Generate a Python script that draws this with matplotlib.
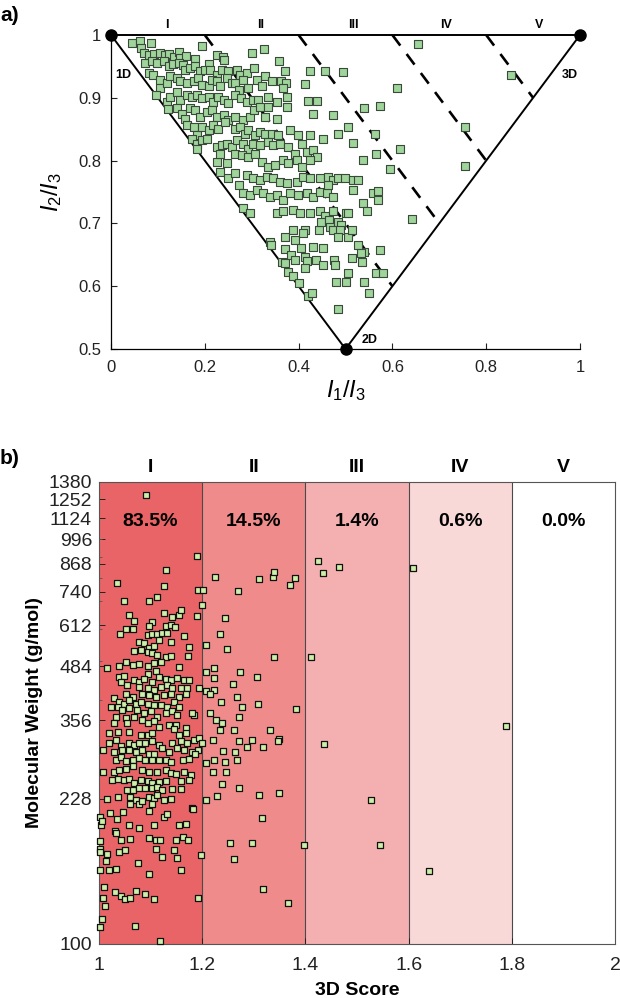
import numpy as np
import matplotlib
matplotlib.use("Agg")
import matplotlib.pyplot as plt
from matplotlib.ticker import FixedLocator, NullFormatter

plt.rcParams['font.family'] = ['Liberation Sans', 'DejaVu Sans']
plt.rcParams['mathtext.fontset'] = 'custom'
plt.rcParams['mathtext.it'] = 'Liberation Sans:italic'
plt.rcParams['mathtext.rm'] = 'Liberation Sans'

# ---- panel a: normalised PMI ratios (I1/I3, I2/I3) ----
pmi_x = [0.044, 0.062, 0.064, 0.085, 0.071, 0.080, 0.092, 0.104, 0.115, 0.124, 0.134, 0.145, 0.147, 0.160, 0.179, 0.195, 0.208, 0.225, 0.238, 0.242,
         0.072, 0.087, 0.099, 0.112, 0.124, 0.133, 0.144, 0.154, 0.158, 0.168, 0.179, 0.190, 0.200, 0.211, 0.225, 0.236, 0.250, 0.268, 0.274, 0.289,
         0.301, 0.305, 0.326, 0.329, 0.343, 0.358, 0.372, 0.362, 0.373, 0.424, 0.456, 0.494,
         0.080, 0.090, 0.104, 0.104, 0.119, 0.126, 0.140, 0.147, 0.161, 0.176, 0.186, 0.195, 0.208, 0.215, 0.225, 0.232, 0.247, 0.257, 0.264, 0.272,
         0.282, 0.293, 0.311, 0.321, 0.366, 0.414,
         0.096, 0.119, 0.126, 0.140, 0.147, 0.161, 0.172, 0.183, 0.193, 0.208, 0.218, 0.229, 0.240, 0.250, 0.264, 0.277, 0.289, 0.303, 0.314, 0.335,
         0.355, 0.375, 0.421, 0.440, 0.474, 0.539, 0.574,
         0.122, 0.140, 0.151, 0.168, 0.179, 0.190, 0.204, 0.215, 0.225, 0.240, 0.250, 0.264, 0.282, 0.296, 0.305, 0.318, 0.328, 0.335, 0.355, 0.375,
         0.431,
         0.158, 0.161, 0.176, 0.184, 0.193, 0.208, 0.218, 0.229, 0.243, 0.264, 0.275, 0.286, 0.293, 0.307, 0.318, 0.328, 0.343, 0.357, 0.382, 0.399,
         0.424, 0.453, 0.485, 0.506, 0.517, 0.563,
         0.172, 0.183, 0.193, 0.204, 0.225, 0.236, 0.247, 0.257, 0.268, 0.282, 0.293, 0.303, 0.318, 0.335, 0.346, 0.360, 0.378, 0.392, 0.407, 0.417,
         0.431, 0.439, 0.538, 0.566,
         0.183, 0.225, 0.232, 0.247, 0.264, 0.279, 0.293, 0.307, 0.321, 0.335, 0.350, 0.367, 0.378, 0.396, 0.407, 0.424,
         0.232, 0.250, 0.264, 0.272, 0.289, 0.303, 0.318, 0.332, 0.346, 0.360, 0.375, 0.396, 0.410, 0.424, 0.446, 0.463, 0.474, 0.485, 0.499, 0.517,
         0.527,
         0.282, 0.296, 0.311, 0.325, 0.339, 0.353, 0.367, 0.382, 0.399, 0.417, 0.431, 0.446, 0.460, 0.463, 0.474, 0.517, 0.538, 0.559, 0.570,
         0.282, 0.296, 0.353, 0.367, 0.389, 0.403, 0.424, 0.446, 0.456, 0.474, 0.502, 0.545,
         0.338, 0.342, 0.371, 0.371, 0.392, 0.365, 0.371, 0.378, 0.388, 0.400, 0.414, 0.418, 0.437, 0.414, 0.451, 0.475, 0.420, 0.428, 0.477, 0.479,
         0.500, 0.505, 0.513, 0.536, 0.540, 0.550, 0.485, 0.564, 0.574, 0.540, 0.414, 0.443, 0.447, 0.464, 0.468, 0.485, 0.491, 0.473, 0.489, 0.485,
         0.506, 0.505, 0.513, 0.527, 0.532, 0.430, 0.451, 0.405, 0.384, 0.392, 0.388, 0.409,
         0.654, 0.610, 0.616, 0.595, 0.641, 0.755, 0.755, 0.852, 0.581, 0.570]
pmi_y = [0.987, 0.990, 0.980, 0.988, 0.971, 0.968, 0.970, 0.971, 0.968, 0.969, 0.965, 0.973, 0.964, 0.967, 0.961, 0.982, 0.954, 0.968, 0.965, 0.960,
         0.956, 0.959, 0.955, 0.958, 0.951, 0.954, 0.955, 0.952, 0.944, 0.947, 0.950, 0.942, 0.944, 0.945, 0.936, 0.944, 0.942, 0.944, 0.936, 0.939,
         0.971, 0.947, 0.977, 0.935, 0.927, 0.958, 0.943, 0.927, 0.923, 0.943, 0.942, 0.941,
         0.939, 0.936, 0.928, 0.915, 0.923, 0.934, 0.931, 0.926, 0.923, 0.926, 0.931, 0.920, 0.918, 0.928, 0.926, 0.918, 0.931, 0.924, 0.923, 0.912,
         0.928, 0.915, 0.928, 0.918, 0.915, 0.922,
         0.904, 0.894, 0.902, 0.910, 0.896, 0.904, 0.902, 0.904, 0.899, 0.902, 0.894, 0.902, 0.896, 0.891, 0.904, 0.899, 0.894, 0.896, 0.896, 0.902,
         0.893, 0.902, 0.895, 0.895, 0.873, 0.884, 0.887,
         0.882, 0.883, 0.875, 0.883, 0.881, 0.870, 0.878, 0.881, 0.870, 0.873, 0.865, 0.870, 0.865, 0.870, 0.881, 0.886, 0.870, 0.886, 0.867, 0.885,
         0.875,
         0.867, 0.857, 0.854, 0.841, 0.854, 0.849, 0.857, 0.851, 0.862, 0.851, 0.854, 0.843, 0.849, 0.841, 0.846, 0.843, 0.843, 0.841, 0.849, 0.841,
         0.841, 0.835, 0.843, 0.853, 0.828, 0.842,
         0.835, 0.827, 0.833, 0.835, 0.822, 0.825, 0.827, 0.822, 0.833, 0.827, 0.819, 0.827, 0.825, 0.830, 0.825, 0.827, 0.822, 0.811, 0.827, 0.814,
         0.817, 0.806, 0.801, 0.811,
         0.819, 0.798, 0.811, 0.796, 0.811, 0.809, 0.806, 0.811, 0.798, 0.790, 0.793, 0.801, 0.796, 0.801, 0.790, 0.801,
         0.782, 0.772, 0.780, 0.761, 0.777, 0.772, 0.769, 0.774, 0.772, 0.766, 0.764, 0.766, 0.774, 0.772, 0.772, 0.774, 0.769, 0.772, 0.772, 0.769,
         0.769,
         0.748, 0.745, 0.753, 0.748, 0.742, 0.745, 0.737, 0.748, 0.745, 0.748, 0.742, 0.750, 0.748, 0.761, 0.742, 0.753, 0.732, 0.748, 0.737,
         0.724, 0.716, 0.716, 0.719, 0.721, 0.716, 0.716, 0.719, 0.711, 0.719, 0.716, 0.719,
         0.670, 0.665, 0.678, 0.660, 0.674, 0.639, 0.637, 0.623, 0.616, 0.605, 0.647, 0.640, 0.642, 0.629, 0.634, 0.642, 0.584, 0.589, 0.634, 0.607,
         0.607, 0.621, 0.645, 0.639, 0.607, 0.589, 0.563, 0.621, 0.658, 0.655, 0.690, 0.690, 0.703, 0.706, 0.695, 0.703, 0.698, 0.690, 0.690, 0.678,
         0.678, 0.716, 0.690, 0.666, 0.653, 0.663, 0.661, 0.661, 0.650, 0.642, 0.690, 0.685,
         0.986, 0.916, 0.819, 0.787, 0.707, 0.853, 0.791, 0.936, 0.621, 0.751]

# ---- panel b: 3D score vs molecular weight ----
score = [1.129, 1.034, 1.126, 1.192, 1.202, 1.048, 1.097, 1.113, 1.200, 1.058, 1.068, 1.126, 1.142, 1.155, 1.158, 1.103, 1.097, 1.189, 1.052, 1.065,
         1.041, 1.129, 1.139, 1.147, 1.094, 1.103, 1.113, 1.123, 1.132, 1.165, 1.078, 1.087, 1.097, 1.107, 1.116, 1.139, 1.174, 1.068, 1.081, 1.094,
         1.103, 1.113, 1.129, 1.139, 1.173, 1.016, 1.039, 1.052, 1.065, 1.078, 1.094, 1.107, 1.120, 1.155, 1.094, 1.110, 1.039, 1.048, 1.068, 1.078,
         1.087, 1.103, 1.116, 1.129, 1.139, 1.152, 1.165, 1.174, 1.042, 1.055, 1.078, 1.094, 1.107, 1.120, 1.132, 1.142, 1.158, 1.171, 1.194, 1.052,
         1.065, 1.084, 1.097, 1.110, 1.126, 1.139, 1.155, 1.168, 1.029, 1.039, 1.048, 1.058, 1.071, 1.081, 1.094, 1.107, 1.120, 1.132, 1.145, 1.155,
         1.023, 1.036, 1.045, 1.058, 1.074, 1.087, 1.100, 1.113, 1.129, 1.142, 1.152, 1.184, 1.032, 1.052, 1.068, 1.084, 1.094, 1.107, 1.055, 1.136,
         1.149, 1.168, 1.181, 1.029, 1.058, 1.081, 1.094, 1.103, 1.116, 1.145, 1.155, 1.168, 1.019, 1.036, 1.019, 1.032, 1.042, 1.058, 1.068, 1.078,
         1.090, 1.103, 1.116, 1.142, 1.158, 1.171, 1.184, 1.194, 1.200, 1.008, 1.029, 1.045, 1.058, 1.071, 1.084, 1.097, 1.107, 1.123, 1.136, 1.152,
         1.165, 1.181, 1.191, 1.032, 1.042, 1.052, 1.065, 1.078, 1.090, 1.103, 1.116, 1.129, 1.139, 1.162, 1.174, 1.187, 1.008, 1.029, 1.039, 1.052,
         1.065, 1.084, 1.097, 1.113, 1.129, 1.139, 1.149, 1.165, 1.178, 1.026, 1.036, 1.048, 1.058, 1.068, 1.081, 1.094, 1.103, 1.116, 1.129, 1.158,
         1.174, 1.055, 1.065, 1.078, 1.090, 1.103, 1.113, 1.123, 1.141, 1.158, 1.016, 1.036, 1.061, 1.071, 1.097, 1.107, 1.113, 1.126, 1.139,
         1.061, 1.078, 1.084, 1.103, 1.181,
         1.002, 1.004, 1.006, 1.002, 1.002, 1.002, 1.015, 1.014, 1.002, 1.009, 1.008, 1.011, 1.006, 1.002, 1.119, 1.069, 1.019, 1.033, 1.031, 1.042,
         1.050, 1.061, 1.071, 1.090, 1.107, 1.075, 1.097, 1.031, 1.033, 1.042, 1.060, 1.038, 1.051, 1.021, 1.034, 1.046, 1.059, 1.077, 1.096, 1.106,
         1.097, 1.111, 1.119, 1.111, 1.123, 1.126, 1.132, 1.149, 1.152, 1.146, 1.155, 1.169, 1.163, 1.172, 1.159, 1.182, 1.092, 1.189,
         1.225, 1.270, 1.244, 1.234, 1.208, 1.249, 1.310, 1.337, 1.339, 1.370, 1.379, 1.425, 1.434, 1.466, 1.608, 1.339, 1.410, 1.207, 1.222, 1.222,
         1.273, 1.259, 1.307, 1.207, 1.222, 1.215, 1.236, 1.268, 1.277, 1.309, 1.382, 1.215, 1.226, 1.238, 1.234, 1.271, 1.262, 1.332, 1.349, 1.346,
         1.297, 1.287, 1.318, 1.272, 1.221, 1.264, 1.268, 1.241, 1.245, 1.247, 1.222, 1.207, 1.220, 1.238, 1.272, 1.228, 1.207, 1.310, 1.349, 1.437,
         1.788, 1.527, 1.316, 1.253, 1.297, 1.261, 1.397, 1.544, 1.640, 1.318, 1.366, 1.192, 1.197]
mw = [837, 776, 765, 747, 747, 700, 700, 717, 686, 650, 627, 654, 641, 647, 667, 624, 609, 643, 600, 598,
      581, 610, 612, 604, 578, 581, 581, 584, 586, 575, 555, 552, 538, 543, 562, 555, 539, 529, 531, 526,
      521, 516, 512, 513, 514, 479, 486, 496, 489, 491, 484, 493, 496, 482, 464, 471, 455, 459, 448, 443,
      450, 443, 455, 450, 448, 452, 449, 448, 443, 435, 431, 427, 423, 431, 435, 427, 427, 427, 427, 415,
      407, 415, 411, 407, 411, 415, 407, 415, 404, 396, 392, 400, 392, 396, 392, 389, 389, 385, 396, 385,
      385, 385, 378, 382, 378, 371, 375, 364, 371, 375, 368, 368, 364, 361, 364, 356, 351, 354, 351, 347,
      347, 341, 371, 351, 334, 328, 328, 331, 344, 339, 328, 331, 331, 334, 314, 319, 308, 313, 310, 313,
      314, 316, 310, 313, 316, 314, 319, 322, 313, 301, 298, 301, 301, 298, 301, 294, 295, 304, 298, 304,
      301, 298, 301, 285, 290, 283, 285, 287, 285, 285, 285, 284, 282, 285, 286, 295, 266, 266, 269, 271,
      275, 268, 265, 266, 268, 264, 263, 265, 261, 254, 256, 254, 256, 249, 254, 253, 249, 251, 252, 253,
      254, 240, 240, 242, 242, 242, 244, 240, 241, 241, 228, 230, 230, 227, 230, 229, 233, 227, 228,
      222, 221, 225, 222, 216,
      206, 197, 201, 180, 172, 169, 167, 160, 152, 138, 130, 124, 115, 110, 102, 111, 152, 153, 134, 131,
      129, 130, 135, 133, 129, 158, 149, 190, 188, 181, 182, 169, 171, 210, 203, 212, 197, 193, 213, 197,
      183, 181, 181, 172, 164, 206, 209, 181, 163, 171, 197, 198, 184, 181, 152, 215, 1283, 905,
      805, 741, 638, 581, 546, 535, 795, 803, 828, 767, 800, 880, 823, 850, 845, 511, 511, 470, 480, 453,
      468, 438, 456, 420, 424, 415, 396, 407, 385, 390, 381, 372, 357, 350, 338, 364, 338, 337, 321, 316,
      318, 307, 307, 316, 318, 297, 284, 299, 281, 266, 284, 280, 266, 248, 242, 232, 226, 233, 236, 311,
      345, 226, 205, 178, 177, 162, 175, 175, 151, 137, 126, 130, 166]

band_edges = [1.0, 1.2, 1.4, 1.6, 1.8, 2.0]
band_colors = ['#e86466', '#f08b8b', '#f4b0b1', '#f9d8d8', '#ffffff']
band_names = ['I', 'II', 'III', 'IV', 'V']
band_pct = ['83.5%', '14.5%', '1.4%', '0.6%', '0.0%']
mw_ticks = [100, 228, 356, 484, 612, 740, 868, 996, 1124, 1252, 1380]

fig = plt.figure(figsize=(6.2, 9.98), dpi=100)

# ---------------- panel a ----------------
ax1 = fig.add_axes([111/620, 649/998, 469/620, 314/998])
ax1.set_xlim(0, 1)
ax1.set_ylim(0.5, 1)
ax1.plot([0, 0.5, 1, 0], [1, 0.5, 1, 1], color='k', lw=1.4, clip_on=False, zorder=3)
for c in band_edges[1:-1]:
    ax1.plot([c - 1, c / 2], [1, c / 2], color='k', lw=1.9, dashes=(5, 4), zorder=3)
ax1.scatter(pmi_x, pmi_y, marker='s', s=32, facecolor='#9fd49b', edgecolor='#3a4a3a',
            linewidth=0.8, zorder=4, clip_on=False)
ax1.plot([0, 1, 0.5], [1, 1, 0.5], 'o', color='k', ms=8, clip_on=False, zorder=6)

for i, name in enumerate(band_names):
    ax1.text(0.12 + 0.198 * i, 1.006, name, ha='center', va='bottom', fontsize=9, fontweight='bold')
ax1.text(0.008, 0.936, '1D', ha='left', va='center', fontsize=9, fontweight='bold')
ax1.text(0.995, 0.936, '3D', ha='right', va='center', fontsize=9, fontweight='bold')
ax1.text(0.535, 0.514, '2D', ha='left', va='center', fontsize=9, fontweight='bold')

ax1.set_xticks([0, 0.2, 0.4, 0.6, 0.8, 1])
ax1.set_xticklabels(['0', '0.2', '0.4', '0.6', '0.8', '1'])
ax1.set_yticks([0.5, 0.6, 0.7, 0.8, 0.9, 1])
ax1.set_yticklabels(['0.5', '0.6', '0.7', '0.8', '0.9', '1'])
ax1.tick_params(direction='in', length=4, width=0.8, labelsize=12, colors='#222222')
ax1.tick_params(axis='x', pad=8)
ax1.tick_params(axis='y', pad=7)
for s in ['top', 'right']:
    ax1.spines[s].set_visible(False)
for s in ['left', 'bottom']:
    ax1.spines[s].set_linewidth(0.9)
ax1.set_xlabel('$I_1/I_3$', fontsize=17, labelpad=2)
ax1.set_ylabel('$I_2/I_3$', fontsize=17, labelpad=10)
fig.text(0.0, 0.984, 'a)', fontsize=15, fontweight='bold', ha='left', va='center')

# ---------------- panel b ----------------
ax2 = fig.add_axes([99/620, 54/998, 516/620, 462/998])
ax2.set_yscale('log')
ax2.set_xlim(1, 2)
ax2.set_ylim(100, 1380)
for i in range(5):
    ax2.axvspan(band_edges[i], band_edges[i + 1], color=band_colors[i], lw=0, zorder=0)
    ax2.text((band_edges[i] + band_edges[i + 1]) / 2, 1.012, band_names[i], transform=ax2.get_xaxis_transform(),
             ha='center', va='bottom', fontsize=14, fontweight='bold')
    ax2.text((band_edges[i] + band_edges[i + 1]) / 2, 1100, band_pct[i], ha='center', va='center',
             fontsize=14, fontweight='bold')
for c in band_edges[1:-1]:
    ax2.axvline(c, color='#4a4a4a', lw=0.8, zorder=1)
ax2.scatter(score, mw, marker='s', s=17, facecolor='#cdefaa', edgecolor='#111111',
            linewidth=0.9, zorder=4, clip_on=False)

ax2.yaxis.set_major_locator(FixedLocator(mw_ticks))
ax2.set_yticklabels([str(t) for t in mw_ticks])
ax2.yaxis.set_minor_locator(FixedLocator([200, 300, 400, 500, 600, 700, 800, 900, 1000]))
ax2.yaxis.set_minor_formatter(NullFormatter())
ax2.set_xticks([1, 1.2, 1.4, 1.6, 1.8, 2])
ax2.set_xticklabels(['1', '1.2', '1.4', '1.6', '1.8', '2'])
ax2.tick_params(which='major', direction='in', length=4, width=0.7, labelsize=14, colors='#222222')
ax2.tick_params(axis='x', which='major', pad=9)
ax2.tick_params(axis='y', which='major', pad=5)
ax2.tick_params(which='minor', direction='in', length=2, width=0.6, colors='#555555')
for s in ax2.spines.values():
    s.set_color('#555555')
    s.set_linewidth(0.8)
ax2.set_xlabel('3D Score', fontsize=14, fontweight='bold', labelpad=6)
ax2.set_ylabel('Molecular Weight (g/mol)', fontsize=14, fontweight='bold', labelpad=4)
fig.text(0.0, 1 - 458/998, 'b)', fontsize=15, fontweight='bold', ha='left', va='center')

fig.savefig('out.png', dpi=100)
